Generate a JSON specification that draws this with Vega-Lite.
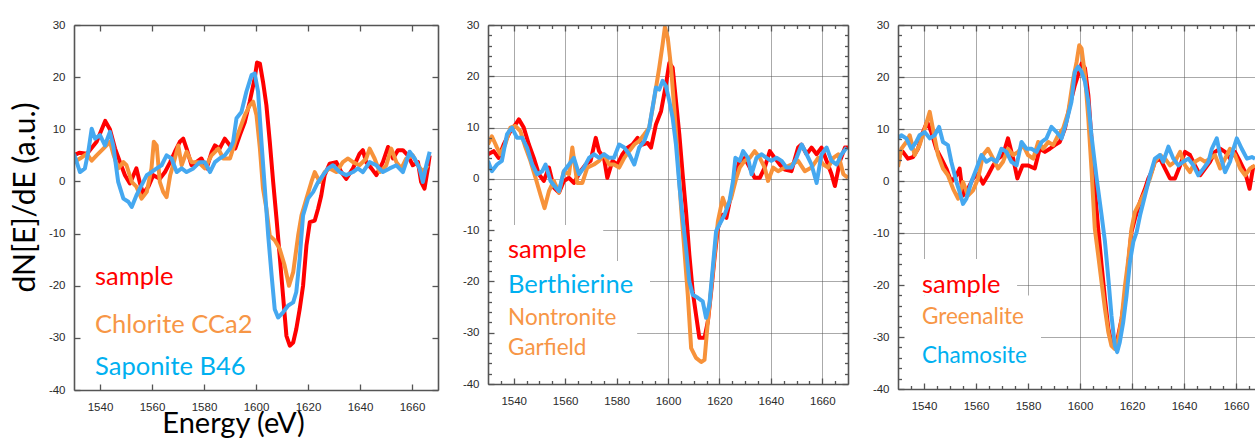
{
"$schema": "https://vega.github.io/schema/vega-lite/v6.json",
"background": "white",
"padding": {"left": 10, "top": 19, "right": 0, "bottom": 0},
"bounds": "flush",
"spacing": 50,
"config": {
  "view": {"stroke": null},
  "axis": {"labelFont": "Liberation Sans", "labelFontSize": 11.5, "labelColor": "#2a2a2a", "domainColor": "#555", "domainWidth": 1.6, "tickColor": "#555", "tickWidth": 1.3, "titleFont": "Lato", "titleFontSize": 29, "titleFontWeight": "normal", "titleColor": "#000", "gridColor": "#555", "gridDash": [1, 1], "gridWidth": 1, "gridOpacity": 1}
},
"datasets": {
"p1": [
{"s":"sample","e":1530,"v":5},{"s":"sample","e":1532,"v":5.5},{"s":"sample","e":1535,"v":5.3},{"s":"sample","e":1538.7,"v":7.6},{"s":"sample","e":1542,"v":11.6},{"s":"sample","e":1543.8,"v":10},{"s":"sample","e":1545.8,"v":6.3},{"s":"sample","e":1547.7,"v":3.7},{"s":"sample","e":1549.6,"v":1.2},{"s":"sample","e":1551.5,"v":-0.4},{"s":"sample","e":1554,"v":2.5},{"s":"sample","e":1555.4,"v":-0.4},{"s":"sample","e":1556.6,"v":-2.3},{"s":"sample","e":1558.6,"v":-1},{"s":"sample","e":1560.5,"v":1.2},{"s":"sample","e":1563,"v":0.5},{"s":"sample","e":1565,"v":1.8},{"s":"sample","e":1567,"v":3.7},{"s":"sample","e":1568.8,"v":5.7},{"s":"sample","e":1570.7,"v":7.6},{"s":"sample","e":1572,"v":8.2},{"s":"sample","e":1573.3,"v":6.3},{"s":"sample","e":1575.2,"v":3.1},{"s":"sample","e":1577,"v":3.7},{"s":"sample","e":1579,"v":4.4},{"s":"sample","e":1581,"v":2.5},{"s":"sample","e":1583,"v":5.7},{"s":"sample","e":1584.2,"v":6.9},{"s":"sample","e":1586,"v":6.3},{"s":"sample","e":1588,"v":8.2},{"s":"sample","e":1590,"v":6.9},{"s":"sample","e":1592,"v":6.3},{"s":"sample","e":1593.8,"v":8.9},{"s":"sample","e":1595.7,"v":11.4},{"s":"sample","e":1597.6,"v":15.3},{"s":"sample","e":1599.5,"v":19.8},{"s":"sample","e":1600.4,"v":22.8},{"s":"sample","e":1601.5,"v":22.6},{"s":"sample","e":1602.7,"v":19.1},{"s":"sample","e":1604,"v":14.6},{"s":"sample","e":1605.3,"v":7.6},{"s":"sample","e":1606.6,"v":-0.1},{"s":"sample","e":1607.9,"v":-7.2},{"s":"sample","e":1609.1,"v":-14.2},{"s":"sample","e":1610.4,"v":-21.9},{"s":"sample","e":1611.7,"v":-29.6},{"s":"sample","e":1613,"v":-31.5},{"s":"sample","e":1614.3,"v":-30.9},{"s":"sample","e":1615.5,"v":-28.3},{"s":"sample","e":1616.8,"v":-24.5},{"s":"sample","e":1618.1,"v":-20},{"s":"sample","e":1619.4,"v":-12.3},{"s":"sample","e":1620.7,"v":-7.8},{"s":"sample","e":1622.6,"v":-7.5},{"s":"sample","e":1623.9,"v":-5.2},{"s":"sample","e":1625.1,"v":-2.7},{"s":"sample","e":1626.4,"v":1.2},{"s":"sample","e":1628.3,"v":3.4},{"s":"sample","e":1630.9,"v":3.7},{"s":"sample","e":1632.8,"v":1.8},{"s":"sample","e":1634.7,"v":0.5},{"s":"sample","e":1637.3,"v":2.5},{"s":"sample","e":1639.8,"v":5.3},{"s":"sample","e":1641.1,"v":6},{"s":"sample","e":1642.4,"v":3.7},{"s":"sample","e":1644.4,"v":2.5},{"s":"sample","e":1646.3,"v":1.2},{"s":"sample","e":1648.8,"v":3.7},{"s":"sample","e":1650.8,"v":6.6},{"s":"sample","e":1652.7,"v":4.4},{"s":"sample","e":1654.6,"v":6},{"s":"sample","e":1656.5,"v":6},{"s":"sample","e":1658.4,"v":5},{"s":"sample","e":1660.3,"v":3.1},{"s":"sample","e":1662.3,"v":3.7},{"s":"sample","e":1663.5,"v":-0.1},{"s":"sample","e":1664.8,"v":-1.4},{"s":"sample","e":1666.1,"v":2.5},{"s":"sample","e":1666.8,"v":5},
{"s":"Chlorite CCa2","e":1530,"v":3.7},{"s":"Chlorite CCa2","e":1532.3,"v":4.4},{"s":"Chlorite CCa2","e":1534.9,"v":5.3},{"s":"Chlorite CCa2","e":1536.8,"v":4},{"s":"Chlorite CCa2","e":1538.7,"v":5},{"s":"Chlorite CCa2","e":1541.3,"v":6.3},{"s":"Chlorite CCa2","e":1543.8,"v":7.6},{"s":"Chlorite CCa2","e":1545.1,"v":5.3},{"s":"Chlorite CCa2","e":1547,"v":2.5},{"s":"Chlorite CCa2","e":1549,"v":3.7},{"s":"Chlorite CCa2","e":1550.2,"v":3.1},{"s":"Chlorite CCa2","e":1552.2,"v":-0.1},{"s":"Chlorite CCa2","e":1554,"v":-1},{"s":"Chlorite CCa2","e":1556,"v":-3.3},{"s":"Chlorite CCa2","e":1558,"v":-2},{"s":"Chlorite CCa2","e":1559.8,"v":2.5},{"s":"Chlorite CCa2","e":1560.7,"v":7.6},{"s":"Chlorite CCa2","e":1561.8,"v":6.9},{"s":"Chlorite CCa2","e":1563,"v":-0.1},{"s":"Chlorite CCa2","e":1564.3,"v":-2},{"s":"Chlorite CCa2","e":1565.6,"v":-3},{"s":"Chlorite CCa2","e":1567,"v":1.2},{"s":"Chlorite CCa2","e":1568.8,"v":4.4},{"s":"Chlorite CCa2","e":1570.1,"v":6.9},{"s":"Chlorite CCa2","e":1571.4,"v":3.1},{"s":"Chlorite CCa2","e":1573.3,"v":5.7},{"s":"Chlorite CCa2","e":1575.2,"v":3.7},{"s":"Chlorite CCa2","e":1577.8,"v":3.7},{"s":"Chlorite CCa2","e":1580.3,"v":2.5},{"s":"Chlorite CCa2","e":1582.9,"v":5},{"s":"Chlorite CCa2","e":1585.5,"v":6.3},{"s":"Chlorite CCa2","e":1587.4,"v":4.4},{"s":"Chlorite CCa2","e":1590,"v":4.4},{"s":"Chlorite CCa2","e":1592,"v":7.6},{"s":"Chlorite CCa2","e":1593.8,"v":10.1},{"s":"Chlorite CCa2","e":1595.7,"v":12.7},{"s":"Chlorite CCa2","e":1597.6,"v":14.6},{"s":"Chlorite CCa2","e":1598.9,"v":15.3},{"s":"Chlorite CCa2","e":1600.2,"v":12.7},{"s":"Chlorite CCa2","e":1601.5,"v":6.3},{"s":"Chlorite CCa2","e":1602.7,"v":-1.4},{"s":"Chlorite CCa2","e":1604,"v":-5.2},{"s":"Chlorite CCa2","e":1605.3,"v":-10.4},{"s":"Chlorite CCa2","e":1607.2,"v":-11.3},{"s":"Chlorite CCa2","e":1609.1,"v":-12.9},{"s":"Chlorite CCa2","e":1611,"v":-16.1},{"s":"Chlorite CCa2","e":1612.7,"v":-20},{"s":"Chlorite CCa2","e":1614.3,"v":-17.4},{"s":"Chlorite CCa2","e":1616.2,"v":-10.4},{"s":"Chlorite CCa2","e":1617.5,"v":-6.5},{"s":"Chlorite CCa2","e":1619.4,"v":-3.3},{"s":"Chlorite CCa2","e":1621.3,"v":-0.1},{"s":"Chlorite CCa2","e":1622.6,"v":1.8},{"s":"Chlorite CCa2","e":1624.5,"v":-0.1},{"s":"Chlorite CCa2","e":1626.4,"v":1.8},{"s":"Chlorite CCa2","e":1628.3,"v":2.5},{"s":"Chlorite CCa2","e":1630.9,"v":1.8},{"s":"Chlorite CCa2","e":1633.4,"v":3.7},{"s":"Chlorite CCa2","e":1635.4,"v":4.4},{"s":"Chlorite CCa2","e":1637.3,"v":3.7},{"s":"Chlorite CCa2","e":1639.8,"v":3.1},{"s":"Chlorite CCa2","e":1642.4,"v":4.4},{"s":"Chlorite CCa2","e":1643.7,"v":6.3},{"s":"Chlorite CCa2","e":1645.6,"v":4.4},{"s":"Chlorite CCa2","e":1647.6,"v":1.8},{"s":"Chlorite CCa2","e":1650.1,"v":3.1},{"s":"Chlorite CCa2","e":1652,"v":6.3},{"s":"Chlorite CCa2","e":1654,"v":3.7},{"s":"Chlorite CCa2","e":1655.9,"v":2.5},{"s":"Chlorite CCa2","e":1657.8,"v":4.4},{"s":"Chlorite CCa2","e":1660.3,"v":5},{"s":"Chlorite CCa2","e":1662.3,"v":3.1},{"s":"Chlorite CCa2","e":1664.2,"v":1.8},{"s":"Chlorite CCa2","e":1666.1,"v":3.1},
{"s":"Saponite B46","e":1530,"v":5.3},{"s":"Saponite B46","e":1532.3,"v":1.8},{"s":"Saponite B46","e":1534.2,"v":2.5},{"s":"Saponite B46","e":1535.5,"v":5.7},{"s":"Saponite B46","e":1536.8,"v":10.1},{"s":"Saponite B46","e":1538.1,"v":8.2},{"s":"Saponite B46","e":1540,"v":8.9},{"s":"Saponite B46","e":1541.9,"v":6.9},{"s":"Saponite B46","e":1543.8,"v":9.5},{"s":"Saponite B46","e":1545.1,"v":6.9},{"s":"Saponite B46","e":1547,"v":-0.1},{"s":"Saponite B46","e":1549,"v":-3.3},{"s":"Saponite B46","e":1550.9,"v":-3.9},{"s":"Saponite B46","e":1552.2,"v":-4.9},{"s":"Saponite B46","e":1554,"v":-2.7},{"s":"Saponite B46","e":1556,"v":-0.7},{"s":"Saponite B46","e":1558,"v":1.2},{"s":"Saponite B46","e":1559.8,"v":1.8},{"s":"Saponite B46","e":1561.8,"v":2.5},{"s":"Saponite B46","e":1563.7,"v":3.1},{"s":"Saponite B46","e":1565.6,"v":5},{"s":"Saponite B46","e":1567.5,"v":4.4},{"s":"Saponite B46","e":1569.5,"v":1.8},{"s":"Saponite B46","e":1571.4,"v":2.5},{"s":"Saponite B46","e":1573.3,"v":1.8},{"s":"Saponite B46","e":1575.9,"v":2.5},{"s":"Saponite B46","e":1578.4,"v":3.7},{"s":"Saponite B46","e":1580.3,"v":3.7},{"s":"Saponite B46","e":1582.3,"v":1.8},{"s":"Saponite B46","e":1584.2,"v":3.7},{"s":"Saponite B46","e":1586,"v":4.4},{"s":"Saponite B46","e":1588,"v":5},{"s":"Saponite B46","e":1590,"v":6.3},{"s":"Saponite B46","e":1591.2,"v":7.6},{"s":"Saponite B46","e":1592.5,"v":12.1},{"s":"Saponite B46","e":1594.4,"v":13.3},{"s":"Saponite B46","e":1596.3,"v":17.2},{"s":"Saponite B46","e":1598.3,"v":20.4},{"s":"Saponite B46","e":1599.5,"v":20.7},{"s":"Saponite B46","e":1600.8,"v":17.2},{"s":"Saponite B46","e":1602.1,"v":7.6},{"s":"Saponite B46","e":1603.4,"v":-1.4},{"s":"Saponite B46","e":1604.7,"v":-10.4},{"s":"Saponite B46","e":1606,"v":-18},{"s":"Saponite B46","e":1607.2,"v":-24.5},{"s":"Saponite B46","e":1608.5,"v":-26.1},{"s":"Saponite B46","e":1610.4,"v":-25.1},{"s":"Saponite B46","e":1612.4,"v":-23.8},{"s":"Saponite B46","e":1614.3,"v":-23.2},{"s":"Saponite B46","e":1615.5,"v":-21.2},{"s":"Saponite B46","e":1616.8,"v":-14.8},{"s":"Saponite B46","e":1618.1,"v":-6.5},{"s":"Saponite B46","e":1620,"v":-3.3},{"s":"Saponite B46","e":1622,"v":-2},{"s":"Saponite B46","e":1623.9,"v":-0.1},{"s":"Saponite B46","e":1625.8,"v":1.2},{"s":"Saponite B46","e":1627.7,"v":2.5},{"s":"Saponite B46","e":1629.6,"v":3.1},{"s":"Saponite B46","e":1632.2,"v":1.8},{"s":"Saponite B46","e":1634.7,"v":1.2},{"s":"Saponite B46","e":1637.3,"v":1.8},{"s":"Saponite B46","e":1639.2,"v":2.5},{"s":"Saponite B46","e":1641.1,"v":1.8},{"s":"Saponite B46","e":1643.7,"v":3.7},{"s":"Saponite B46","e":1646.3,"v":3.1},{"s":"Saponite B46","e":1648.8,"v":1.8},{"s":"Saponite B46","e":1651.4,"v":2.5},{"s":"Saponite B46","e":1654,"v":3.1},{"s":"Saponite B46","e":1656.5,"v":1.8},{"s":"Saponite B46","e":1659.1,"v":5.7},{"s":"Saponite B46","e":1661,"v":4.4},{"s":"Saponite B46","e":1662.9,"v":2.5},{"s":"Saponite B46","e":1664.2,"v":-0.1},{"s":"Saponite B46","e":1665.5,"v":3.1},{"s":"Saponite B46","e":1666.8,"v":5.7}
],
"p2": [
{"s":"sample","e":1530,"v":4.8},{"s":"sample","e":1532.2,"v":5.4},{"s":"sample","e":1534.1,"v":4.1},{"s":"sample","e":1536.1,"v":6.7},{"s":"sample","e":1538.7,"v":9.3},{"s":"sample","e":1540.7,"v":10.6},{"s":"sample","e":1542,"v":11.6},{"s":"sample","e":1543.9,"v":10},{"s":"sample","e":1545.9,"v":6.7},{"s":"sample","e":1547.8,"v":4.1},{"s":"sample","e":1549.8,"v":0.9},{"s":"sample","e":1551.7,"v":-0.4},{"s":"sample","e":1553.7,"v":2.2},{"s":"sample","e":1555.6,"v":-1.7},{"s":"sample","e":1557.6,"v":-2.7},{"s":"sample","e":1559.5,"v":-0.4},{"s":"sample","e":1561.5,"v":0.2},{"s":"sample","e":1563.4,"v":-0.8},{"s":"sample","e":1566,"v":1.5},{"s":"sample","e":1568,"v":2.8},{"s":"sample","e":1569.9,"v":3.5},{"s":"sample","e":1571.9,"v":8},{"s":"sample","e":1573.2,"v":5.4},{"s":"sample","e":1575.1,"v":4.1},{"s":"sample","e":1576.4,"v":0.2},{"s":"sample","e":1578.4,"v":3.5},{"s":"sample","e":1580.3,"v":2.8},{"s":"sample","e":1582.3,"v":4.8},{"s":"sample","e":1584.3,"v":6.1},{"s":"sample","e":1586.2,"v":6.7},{"s":"sample","e":1588.2,"v":8},{"s":"sample","e":1590.1,"v":6.7},{"s":"sample","e":1592.1,"v":7},{"s":"sample","e":1593.4,"v":6.1},{"s":"sample","e":1595.3,"v":10.6},{"s":"sample","e":1597.3,"v":13.2},{"s":"sample","e":1599.2,"v":18.4},{"s":"sample","e":1600.5,"v":22.6},{"s":"sample","e":1601.8,"v":21.7},{"s":"sample","e":1603.1,"v":15.2},{"s":"sample","e":1604.4,"v":8.7},{"s":"sample","e":1605.7,"v":0.9},{"s":"sample","e":1607,"v":-6.3},{"s":"sample","e":1608.3,"v":-14.8},{"s":"sample","e":1609.6,"v":-21.9},{"s":"sample","e":1610.9,"v":-26.5},{"s":"sample","e":1612.2,"v":-31},{"s":"sample","e":1614.2,"v":-31},{"s":"sample","e":1615.5,"v":-27.8},{"s":"sample","e":1616.8,"v":-21.9},{"s":"sample","e":1618.1,"v":-15.4},{"s":"sample","e":1619.4,"v":-9.6},{"s":"sample","e":1621.3,"v":-7},{"s":"sample","e":1622.7,"v":-7.6},{"s":"sample","e":1624,"v":-4.4},{"s":"sample","e":1625.3,"v":-1.7},{"s":"sample","e":1626.6,"v":1.5},{"s":"sample","e":1627.9,"v":3.5},{"s":"sample","e":1629.8,"v":4.1},{"s":"sample","e":1631.8,"v":2.2},{"s":"sample","e":1633.7,"v":0.2},{"s":"sample","e":1635.7,"v":0.2},{"s":"sample","e":1637.6,"v":2.2},{"s":"sample","e":1639.6,"v":5.4},{"s":"sample","e":1641.5,"v":4.1},{"s":"sample","e":1643.5,"v":2.8},{"s":"sample","e":1645.4,"v":1.8},{"s":"sample","e":1648,"v":1.5},{"s":"sample","e":1650.6,"v":6.1},{"s":"sample","e":1651.9,"v":6.7},{"s":"sample","e":1653.9,"v":4.8},{"s":"sample","e":1655.8,"v":6.1},{"s":"sample","e":1657.8,"v":4.8},{"s":"sample","e":1659.7,"v":6.1},{"s":"sample","e":1661.7,"v":3.5},{"s":"sample","e":1663.6,"v":0.9},{"s":"sample","e":1664.9,"v":-1.4},{"s":"sample","e":1666.9,"v":3.5},{"s":"sample","e":1668.8,"v":6.1},{"s":"sample","e":1670,"v":6.1},
{"s":"Nontronite Garfield","e":1530,"v":6.7},{"s":"Nontronite Garfield","e":1531.5,"v":8.3},{"s":"Nontronite Garfield","e":1533.5,"v":6.1},{"s":"Nontronite Garfield","e":1534.8,"v":4.8},{"s":"Nontronite Garfield","e":1536.7,"v":6.7},{"s":"Nontronite Garfield","e":1538.7,"v":10},{"s":"Nontronite Garfield","e":1540.7,"v":10.3},{"s":"Nontronite Garfield","e":1542.6,"v":9.3},{"s":"Nontronite Garfield","e":1544.6,"v":6.1},{"s":"Nontronite Garfield","e":1546.5,"v":3.5},{"s":"Nontronite Garfield","e":1548.5,"v":0.2},{"s":"Nontronite Garfield","e":1550.4,"v":-3.1},{"s":"Nontronite Garfield","e":1552,"v":-5.7},{"s":"Nontronite Garfield","e":1553.7,"v":-2.4},{"s":"Nontronite Garfield","e":1555.6,"v":-0.4},{"s":"Nontronite Garfield","e":1557.6,"v":-2.7},{"s":"Nontronite Garfield","e":1559.5,"v":1.5},{"s":"Nontronite Garfield","e":1561.5,"v":0.9},{"s":"Nontronite Garfield","e":1562.8,"v":6.1},{"s":"Nontronite Garfield","e":1564.7,"v":-0.8},{"s":"Nontronite Garfield","e":1566.7,"v":-0.8},{"s":"Nontronite Garfield","e":1568.6,"v":2.2},{"s":"Nontronite Garfield","e":1571.2,"v":2.8},{"s":"Nontronite Garfield","e":1573.2,"v":3.5},{"s":"Nontronite Garfield","e":1575.1,"v":4.8},{"s":"Nontronite Garfield","e":1577.1,"v":2.8},{"s":"Nontronite Garfield","e":1579,"v":2.8},{"s":"Nontronite Garfield","e":1581,"v":2.2},{"s":"Nontronite Garfield","e":1583,"v":4.1},{"s":"Nontronite Garfield","e":1584.9,"v":5.4},{"s":"Nontronite Garfield","e":1586.9,"v":6.7},{"s":"Nontronite Garfield","e":1588.8,"v":7.4},{"s":"Nontronite Garfield","e":1590.8,"v":8.7},{"s":"Nontronite Garfield","e":1592.7,"v":10},{"s":"Nontronite Garfield","e":1594.7,"v":15.8},{"s":"Nontronite Garfield","e":1596.6,"v":21.7},{"s":"Nontronite Garfield","e":1597.9,"v":26.2},{"s":"Nontronite Garfield","e":1598.8,"v":29.6},{"s":"Nontronite Garfield","e":1599.9,"v":27.5},{"s":"Nontronite Garfield","e":1601.2,"v":21.7},{"s":"Nontronite Garfield","e":1602.5,"v":13.2},{"s":"Nontronite Garfield","e":1603.8,"v":4.1},{"s":"Nontronite Garfield","e":1605.1,"v":-5.7},{"s":"Nontronite Garfield","e":1606.4,"v":-14.1},{"s":"Nontronite Garfield","e":1607.7,"v":-22.6},{"s":"Nontronite Garfield","e":1609,"v":-33},{"s":"Nontronite Garfield","e":1610.9,"v":-34.9},{"s":"Nontronite Garfield","e":1612.9,"v":-35.7},{"s":"Nontronite Garfield","e":1614.2,"v":-35.3},{"s":"Nontronite Garfield","e":1615.5,"v":-27.8},{"s":"Nontronite Garfield","e":1616.8,"v":-21.3},{"s":"Nontronite Garfield","e":1618.1,"v":-14.8},{"s":"Nontronite Garfield","e":1619.4,"v":-8.3},{"s":"Nontronite Garfield","e":1621.3,"v":-3.7},{"s":"Nontronite Garfield","e":1622.7,"v":-5.7},{"s":"Nontronite Garfield","e":1624.6,"v":-3.7},{"s":"Nontronite Garfield","e":1626.6,"v":0.2},{"s":"Nontronite Garfield","e":1627.9,"v":2.2},{"s":"Nontronite Garfield","e":1629.8,"v":3.5},{"s":"Nontronite Garfield","e":1631.8,"v":4.1},{"s":"Nontronite Garfield","e":1633.7,"v":5.4},{"s":"Nontronite Garfield","e":1635.7,"v":4.1},{"s":"Nontronite Garfield","e":1637.6,"v":2.2},{"s":"Nontronite Garfield","e":1638.9,"v":-0.4},{"s":"Nontronite Garfield","e":1640.9,"v":2.2},{"s":"Nontronite Garfield","e":1642.8,"v":1.5},{"s":"Nontronite Garfield","e":1645.4,"v":2.2},{"s":"Nontronite Garfield","e":1648,"v":2.8},{"s":"Nontronite Garfield","e":1650.6,"v":3.5},{"s":"Nontronite Garfield","e":1653.2,"v":1.5},{"s":"Nontronite Garfield","e":1655.8,"v":2.2},{"s":"Nontronite Garfield","e":1658.4,"v":4.1},{"s":"Nontronite Garfield","e":1660.4,"v":2.8},{"s":"Nontronite Garfield","e":1662.3,"v":2.2},{"s":"Nontronite Garfield","e":1664.3,"v":4.1},{"s":"Nontronite Garfield","e":1666.2,"v":4.8},{"s":"Nontronite Garfield","e":1668.2,"v":0.9},{"s":"Nontronite Garfield","e":1670,"v":0.2},
{"s":"Berthierine","e":1530,"v":3.5},{"s":"Berthierine","e":1531.5,"v":1.5},{"s":"Berthierine","e":1533.5,"v":2.8},{"s":"Berthierine","e":1535.4,"v":3.5},{"s":"Berthierine","e":1537.4,"v":8.7},{"s":"Berthierine","e":1539.3,"v":10},{"s":"Berthierine","e":1541.3,"v":8},{"s":"Berthierine","e":1543.3,"v":8},{"s":"Berthierine","e":1545.2,"v":6.1},{"s":"Berthierine","e":1547.2,"v":2.8},{"s":"Berthierine","e":1549.1,"v":0.9},{"s":"Berthierine","e":1551.1,"v":1.5},{"s":"Berthierine","e":1552.4,"v":2.8},{"s":"Berthierine","e":1554.3,"v":-0.4},{"s":"Berthierine","e":1556.3,"v":-1.7},{"s":"Berthierine","e":1557.6,"v":-2.4},{"s":"Berthierine","e":1559.5,"v":1.5},{"s":"Berthierine","e":1561.5,"v":2.8},{"s":"Berthierine","e":1563.4,"v":4.1},{"s":"Berthierine","e":1565.4,"v":0.9},{"s":"Berthierine","e":1567.3,"v":2.2},{"s":"Berthierine","e":1569.3,"v":4.1},{"s":"Berthierine","e":1571.2,"v":4.8},{"s":"Berthierine","e":1573.2,"v":4.1},{"s":"Berthierine","e":1575.1,"v":4.8},{"s":"Berthierine","e":1577.1,"v":4.1},{"s":"Berthierine","e":1579,"v":4.1},{"s":"Berthierine","e":1581,"v":6.7},{"s":"Berthierine","e":1583,"v":6.1},{"s":"Berthierine","e":1584.9,"v":4.8},{"s":"Berthierine","e":1586.9,"v":2.8},{"s":"Berthierine","e":1588.8,"v":6.1},{"s":"Berthierine","e":1590.8,"v":7.4},{"s":"Berthierine","e":1592.7,"v":10},{"s":"Berthierine","e":1594,"v":13.9},{"s":"Berthierine","e":1595.3,"v":17.8},{"s":"Berthierine","e":1596.6,"v":17.4},{"s":"Berthierine","e":1597.9,"v":19.1},{"s":"Berthierine","e":1599.2,"v":18.1},{"s":"Berthierine","e":1600.5,"v":15.2},{"s":"Berthierine","e":1601.8,"v":11.9},{"s":"Berthierine","e":1603.1,"v":6.7},{"s":"Berthierine","e":1604.4,"v":-1.1},{"s":"Berthierine","e":1605.7,"v":-7.6},{"s":"Berthierine","e":1607,"v":-13.5},{"s":"Berthierine","e":1608.3,"v":-20},{"s":"Berthierine","e":1609.6,"v":-22.6},{"s":"Berthierine","e":1611.6,"v":-23.2},{"s":"Berthierine","e":1613.5,"v":-23.9},{"s":"Berthierine","e":1614.8,"v":-27.1},{"s":"Berthierine","e":1616.1,"v":-24.5},{"s":"Berthierine","e":1617.4,"v":-17.4},{"s":"Berthierine","e":1618.7,"v":-10.2},{"s":"Berthierine","e":1620,"v":-8.9},{"s":"Berthierine","e":1622,"v":-7},{"s":"Berthierine","e":1623.9,"v":-4.4},{"s":"Berthierine","e":1625.3,"v":-0.4},{"s":"Berthierine","e":1626.2,"v":4.1},{"s":"Berthierine","e":1627.9,"v":3.5},{"s":"Berthierine","e":1629.2,"v":5.4},{"s":"Berthierine","e":1631.1,"v":4.1},{"s":"Berthierine","e":1632.5,"v":0.9},{"s":"Berthierine","e":1634.4,"v":4.1},{"s":"Berthierine","e":1636.3,"v":4.8},{"s":"Berthierine","e":1638.3,"v":4.1},{"s":"Berthierine","e":1640.2,"v":3.5},{"s":"Berthierine","e":1642.2,"v":4.1},{"s":"Berthierine","e":1644.2,"v":3.5},{"s":"Berthierine","e":1646.1,"v":2.2},{"s":"Berthierine","e":1648,"v":2.2},{"s":"Berthierine","e":1650,"v":4.1},{"s":"Berthierine","e":1652,"v":6.7},{"s":"Berthierine","e":1653.9,"v":4.8},{"s":"Berthierine","e":1655.8,"v":2.8},{"s":"Berthierine","e":1657.8,"v":-0.8},{"s":"Berthierine","e":1659.7,"v":4.8},{"s":"Berthierine","e":1661.7,"v":6.1},{"s":"Berthierine","e":1663.6,"v":3.5},{"s":"Berthierine","e":1665.6,"v":2.8},{"s":"Berthierine","e":1667.5,"v":4.8},{"s":"Berthierine","e":1669.5,"v":6.1}
],
"p3": [
{"s":"sample","e":1530,"v":5},{"s":"sample","e":1531.9,"v":5.6},{"s":"sample","e":1533.8,"v":4.3},{"s":"sample","e":1535.8,"v":4.6},{"s":"sample","e":1537.7,"v":6.2},{"s":"sample","e":1539.6,"v":9.4},{"s":"sample","e":1541.2,"v":11.4},{"s":"sample","e":1542.8,"v":9.4},{"s":"sample","e":1544.7,"v":6.2},{"s":"sample","e":1546.7,"v":4.3},{"s":"sample","e":1548.6,"v":2.4},{"s":"sample","e":1550.5,"v":-0.2},{"s":"sample","e":1552.5,"v":1.1},{"s":"sample","e":1553.7,"v":2.4},{"s":"sample","e":1555,"v":-2.8},{"s":"sample","e":1556.9,"v":-1.5},{"s":"sample","e":1558.9,"v":0.5},{"s":"sample","e":1560.8,"v":1.4},{"s":"sample","e":1562.7,"v":-0.5},{"s":"sample","e":1564.6,"v":1.1},{"s":"sample","e":1566.6,"v":3},{"s":"sample","e":1568.5,"v":4.3},{"s":"sample","e":1570.4,"v":5},{"s":"sample","e":1572.3,"v":8.2},{"s":"sample","e":1574.3,"v":4.3},{"s":"sample","e":1575.9,"v":0.5},{"s":"sample","e":1577.9,"v":3},{"s":"sample","e":1580,"v":3},{"s":"sample","e":1582.6,"v":2.4},{"s":"sample","e":1584.5,"v":6.2},{"s":"sample","e":1586.5,"v":5.6},{"s":"sample","e":1588.4,"v":6.2},{"s":"sample","e":1590.3,"v":6.9},{"s":"sample","e":1592.2,"v":7.5},{"s":"sample","e":1594.2,"v":10.1},{"s":"sample","e":1596.1,"v":14.6},{"s":"sample","e":1598,"v":18.4},{"s":"sample","e":1599.3,"v":20.4},{"s":"sample","e":1600.6,"v":22.6},{"s":"sample","e":1601.9,"v":21.7},{"s":"sample","e":1603.2,"v":16.5},{"s":"sample","e":1604.4,"v":8.2},{"s":"sample","e":1605.7,"v":-1.5},{"s":"sample","e":1607,"v":-9.2},{"s":"sample","e":1608.3,"v":-16.2},{"s":"sample","e":1609.6,"v":-22.7},{"s":"sample","e":1610.9,"v":-28.4},{"s":"sample","e":1612.1,"v":-31},{"s":"sample","e":1613.4,"v":-31.7},{"s":"sample","e":1614.7,"v":-29.7},{"s":"sample","e":1616,"v":-26.5},{"s":"sample","e":1617.3,"v":-22},{"s":"sample","e":1618.6,"v":-15.6},{"s":"sample","e":1619.8,"v":-9.8},{"s":"sample","e":1621.1,"v":-7.3},{"s":"sample","e":1623.1,"v":-4},{"s":"sample","e":1625,"v":-1.5},{"s":"sample","e":1626.3,"v":0.5},{"s":"sample","e":1627.5,"v":1.7},{"s":"sample","e":1628.8,"v":3.7},{"s":"sample","e":1630.8,"v":4.3},{"s":"sample","e":1632.7,"v":2.4},{"s":"sample","e":1634.6,"v":0.5},{"s":"sample","e":1636.5,"v":0.5},{"s":"sample","e":1638.5,"v":3},{"s":"sample","e":1640.4,"v":5.6},{"s":"sample","e":1642.3,"v":5},{"s":"sample","e":1644.2,"v":3},{"s":"sample","e":1646.2,"v":1.1},{"s":"sample","e":1648.1,"v":2.4},{"s":"sample","e":1650,"v":3.7},{"s":"sample","e":1651.9,"v":5.6},{"s":"sample","e":1653.9,"v":6.2},{"s":"sample","e":1655.8,"v":5.6},{"s":"sample","e":1657.7,"v":4.3},{"s":"sample","e":1659.6,"v":5.6},{"s":"sample","e":1661.6,"v":3.7},{"s":"sample","e":1663.5,"v":1.7},{"s":"sample","e":1665.2,"v":-1.5},{"s":"sample","e":1666.7,"v":3},
{"s":"Greenalite","e":1530,"v":2.7},{"s":"Greenalite","e":1531.3,"v":6.2},{"s":"Greenalite","e":1533.2,"v":7.5},{"s":"Greenalite","e":1534.5,"v":8.8},{"s":"Greenalite","e":1536.4,"v":5},{"s":"Greenalite","e":1538.3,"v":6.9},{"s":"Greenalite","e":1540.3,"v":10.1},{"s":"Greenalite","e":1542.2,"v":13.3},{"s":"Greenalite","e":1543.9,"v":8.8},{"s":"Greenalite","e":1545.4,"v":5},{"s":"Greenalite","e":1547.3,"v":2.4},{"s":"Greenalite","e":1549.2,"v":1.1},{"s":"Greenalite","e":1551.2,"v":-1.5},{"s":"Greenalite","e":1553.1,"v":-3.4},{"s":"Greenalite","e":1555,"v":-0.2},{"s":"Greenalite","e":1556.9,"v":-2.8},{"s":"Greenalite","e":1558.9,"v":-1.8},{"s":"Greenalite","e":1560.8,"v":0.5},{"s":"Greenalite","e":1562.7,"v":5},{"s":"Greenalite","e":1564.6,"v":6.2},{"s":"Greenalite","e":1566.6,"v":4.3},{"s":"Greenalite","e":1568.5,"v":2.4},{"s":"Greenalite","e":1570.4,"v":3.7},{"s":"Greenalite","e":1572.3,"v":6.2},{"s":"Greenalite","e":1574.3,"v":5},{"s":"Greenalite","e":1576.2,"v":5.6},{"s":"Greenalite","e":1578.1,"v":6.9},{"s":"Greenalite","e":1580,"v":5},{"s":"Greenalite","e":1582,"v":4.3},{"s":"Greenalite","e":1583.9,"v":7.5},{"s":"Greenalite","e":1585.8,"v":6.2},{"s":"Greenalite","e":1587.8,"v":7.5},{"s":"Greenalite","e":1589.7,"v":6.9},{"s":"Greenalite","e":1591.6,"v":8.8},{"s":"Greenalite","e":1593.5,"v":10.1},{"s":"Greenalite","e":1595.5,"v":13.3},{"s":"Greenalite","e":1597.4,"v":19.7},{"s":"Greenalite","e":1598.7,"v":22.9},{"s":"Greenalite","e":1599.7,"v":26.1},{"s":"Greenalite","e":1600.6,"v":25.5},{"s":"Greenalite","e":1601.9,"v":20.4},{"s":"Greenalite","e":1603.2,"v":12},{"s":"Greenalite","e":1604.4,"v":2.4},{"s":"Greenalite","e":1605.7,"v":-9.2},{"s":"Greenalite","e":1607,"v":-14.3},{"s":"Greenalite","e":1608.3,"v":-19.5},{"s":"Greenalite","e":1609.6,"v":-24.6},{"s":"Greenalite","e":1610.9,"v":-29.1},{"s":"Greenalite","e":1612.1,"v":-31.7},{"s":"Greenalite","e":1613.4,"v":-32.3},{"s":"Greenalite","e":1614.7,"v":-30.4},{"s":"Greenalite","e":1616,"v":-26.5},{"s":"Greenalite","e":1617.3,"v":-20.1},{"s":"Greenalite","e":1618.6,"v":-15},{"s":"Greenalite","e":1619.8,"v":-9.2},{"s":"Greenalite","e":1621.1,"v":-6},{"s":"Greenalite","e":1623.1,"v":-4},{"s":"Greenalite","e":1625,"v":-2.1},{"s":"Greenalite","e":1626.9,"v":0.5},{"s":"Greenalite","e":1628.8,"v":3.7},{"s":"Greenalite","e":1630.8,"v":5},{"s":"Greenalite","e":1632.7,"v":4.3},{"s":"Greenalite","e":1634.6,"v":3},{"s":"Greenalite","e":1636.5,"v":3.7},{"s":"Greenalite","e":1638.5,"v":5.6},{"s":"Greenalite","e":1640.4,"v":3},{"s":"Greenalite","e":1642.3,"v":1.7},{"s":"Greenalite","e":1644.2,"v":3.7},{"s":"Greenalite","e":1646.2,"v":4.3},{"s":"Greenalite","e":1648.1,"v":3.7},{"s":"Greenalite","e":1650,"v":4.3},{"s":"Greenalite","e":1651.9,"v":5},{"s":"Greenalite","e":1653.9,"v":2.4},{"s":"Greenalite","e":1655.8,"v":4.3},{"s":"Greenalite","e":1657.7,"v":6.2},{"s":"Greenalite","e":1659.6,"v":5},{"s":"Greenalite","e":1661.6,"v":2.4},{"s":"Greenalite","e":1663.5,"v":1.1},{"s":"Greenalite","e":1665.4,"v":2.4},{"s":"Greenalite","e":1667.3,"v":3},
{"s":"Chamosite","e":1530,"v":8.2},{"s":"Chamosite","e":1531.3,"v":8.8},{"s":"Chamosite","e":1533.2,"v":8.2},{"s":"Chamosite","e":1535.1,"v":6.2},{"s":"Chamosite","e":1537,"v":7.5},{"s":"Chamosite","e":1538.3,"v":8.8},{"s":"Chamosite","e":1540.3,"v":9.4},{"s":"Chamosite","e":1542.2,"v":8.2},{"s":"Chamosite","e":1544.1,"v":8.8},{"s":"Chamosite","e":1545.8,"v":10.4},{"s":"Chamosite","e":1547.3,"v":7.5},{"s":"Chamosite","e":1549.2,"v":6.9},{"s":"Chamosite","e":1550.5,"v":3.7},{"s":"Chamosite","e":1552.5,"v":-0.2},{"s":"Chamosite","e":1553.7,"v":-2.1},{"s":"Chamosite","e":1555,"v":-4.4},{"s":"Chamosite","e":1556.3,"v":-3.4},{"s":"Chamosite","e":1558.2,"v":-0.2},{"s":"Chamosite","e":1560.2,"v":2.4},{"s":"Chamosite","e":1562.1,"v":5},{"s":"Chamosite","e":1564,"v":3.7},{"s":"Chamosite","e":1565.9,"v":4.3},{"s":"Chamosite","e":1567.9,"v":3.7},{"s":"Chamosite","e":1569.8,"v":6.2},{"s":"Chamosite","e":1571.7,"v":5.6},{"s":"Chamosite","e":1573.6,"v":3.7},{"s":"Chamosite","e":1575.6,"v":3},{"s":"Chamosite","e":1577.5,"v":7.5},{"s":"Chamosite","e":1579.4,"v":6.2},{"s":"Chamosite","e":1581.3,"v":6.2},{"s":"Chamosite","e":1583.3,"v":5.6},{"s":"Chamosite","e":1585.2,"v":7.5},{"s":"Chamosite","e":1587.1,"v":8.2},{"s":"Chamosite","e":1589,"v":10.4},{"s":"Chamosite","e":1591,"v":9.4},{"s":"Chamosite","e":1592.9,"v":8.2},{"s":"Chamosite","e":1594.8,"v":11.4},{"s":"Chamosite","e":1596.7,"v":15.2},{"s":"Chamosite","e":1598,"v":21},{"s":"Chamosite","e":1599.3,"v":22},{"s":"Chamosite","e":1600.6,"v":21},{"s":"Chamosite","e":1601.9,"v":19.1},{"s":"Chamosite","e":1603.2,"v":15.2},{"s":"Chamosite","e":1604.4,"v":8.8},{"s":"Chamosite","e":1606.4,"v":0.5},{"s":"Chamosite","e":1608.3,"v":-6.6},{"s":"Chamosite","e":1609.6,"v":-11.7},{"s":"Chamosite","e":1610.9,"v":-18.8},{"s":"Chamosite","e":1612.1,"v":-25.9},{"s":"Chamosite","e":1613.4,"v":-31.7},{"s":"Chamosite","e":1614.3,"v":-32.9},{"s":"Chamosite","e":1615.3,"v":-31},{"s":"Chamosite","e":1616.6,"v":-27.2},{"s":"Chamosite","e":1617.9,"v":-22},{"s":"Chamosite","e":1619.2,"v":-15.6},{"s":"Chamosite","e":1620.5,"v":-11.7},{"s":"Chamosite","e":1621.8,"v":-9.8},{"s":"Chamosite","e":1623.1,"v":-6.6},{"s":"Chamosite","e":1625,"v":-2.8},{"s":"Chamosite","e":1626.9,"v":1.1},{"s":"Chamosite","e":1628.8,"v":4.3},{"s":"Chamosite","e":1630.8,"v":5},{"s":"Chamosite","e":1632,"v":3.7},{"s":"Chamosite","e":1634,"v":6.6},{"s":"Chamosite","e":1635.9,"v":4.3},{"s":"Chamosite","e":1637.8,"v":3},{"s":"Chamosite","e":1639.7,"v":3.7},{"s":"Chamosite","e":1641.7,"v":4.3},{"s":"Chamosite","e":1643.6,"v":3},{"s":"Chamosite","e":1645.5,"v":1.1},{"s":"Chamosite","e":1647.5,"v":2.4},{"s":"Chamosite","e":1649.4,"v":3.7},{"s":"Chamosite","e":1650.7,"v":6.2},{"s":"Chamosite","e":1652.6,"v":8.2},{"s":"Chamosite","e":1653.9,"v":5},{"s":"Chamosite","e":1655.8,"v":1.7},{"s":"Chamosite","e":1657.7,"v":3.7},{"s":"Chamosite","e":1659,"v":6.2},{"s":"Chamosite","e":1660.3,"v":8.2},{"s":"Chamosite","e":1662.2,"v":6.2},{"s":"Chamosite","e":1664.2,"v":4.3},{"s":"Chamosite","e":1666.1,"v":4.6},{"s":"Chamosite","e":1667.3,"v":4.3}
],
"lab": [
{"p":1,"t":"sample","s":"sample","x":1538.1,"y":-19.9},
{"p":1,"t":"Chlorite CCa2","s":"Chlorite CCa2","x":1538.1,"y":-29.1},
{"p":1,"t":"Saponite B46","s":"Saponite B46","x":1538.1,"y":-37.1},
{"p":2,"t":"sample","s":"sample","x":1537.8,"y":-15.4},
{"p":2,"t":"Berthierine","s":"Berthierine","x":1537.8,"y":-22.3},
{"p":2,"t":"Nontronite","s":"Nontronite Garfield","x":1537.8,"y":-28.5},
{"p":2,"t":"Garfield","s":"Nontronite Garfield","x":1537.8,"y":-34.3},
{"p":3,"t":"sample","s":"sample","x":1539.2,"y":-21.5},
{"p":3,"t":"Greenalite","s":"Greenalite","x":1539.2,"y":-27.5},
{"p":3,"t":"Chamosite","s":"Chamosite","x":1539.2,"y":-35}
],
"boxes": [
{"p":2,"x":1530,"x2":1574.8,"y":-16,"y2":-9},
{"p":2,"x":1530,"x2":1593,"y":-25,"y2":-16},
{"p":2,"x":1530,"x2":1588,"y":-40,"y2":-25},
{"p":3,"x":1530,"x2":1575.8,"y":-22,"y2":-15},
{"p":3,"x":1530,"x2":1585,"y":-40,"y2":-22}
]
},
"hconcat": [
{
 "width": 364, "height": 365,
 "resolve": {"axis": {"x": "independent", "y": "independent"}, "scale": {"color": "independent"}},
 "layer": [
  {"data": {"name": "p1"},
   "mark": {"type": "line", "strokeWidth": 4, "strokeJoin": "round", "clip": true},
   "encoding": {
    "x": {"field": "e", "type": "quantitative", "scale": {"domain": [1530, 1670], "nice": false, "zero": false},
      "axis": {"orient": "bottom", "values": [1540,1560,1580,1600,1620,1640,1660], "labelExpr": "'' + datum.value", "ticks": false, "domain": false, "grid": false, "labelPadding": 11, "title": "Energy (eV)", "titleX": 159, "titleY": 42, "titleBaseline": "alphabetic", "titleAlign": "center", "zindex": 0}},
    "y": {"field": "v", "type": "quantitative", "scale": {"domain": [-40, 30], "nice": false, "zero": false},
      "axis": {"orient": "left", "values": [-40,-30,-20,-10,0,10,20,30], "ticks": false, "domain": false, "grid": false, "labelPadding": 9, "labelExpr": "datum.value < 0 ? '-' + abs(datum.value) : '' + datum.value", "title": "dN[E]/dE (a.u.)", "titleX": -49, "titleY": 172, "titleAngle": 270, "titleBaseline": "middle", "titleAlign": "center", "titleFontSize": 30, "zindex": 0}},
    "color": {"field": "s", "type": "nominal", "legend": null, "scale": {"domain": ["sample","Chlorite CCa2","Saponite B46"], "range": ["#FF0000","#F7923A","#45A8F0"]}}
   }},
  {"data": {"name": "p1"},
   "mark": {"type": "point", "opacity": 0},
   "encoding": {
    "x": {"field": "e", "type": "quantitative", "scale": {"domain": [1530, 1670], "nice": false, "zero": false},
      "axis": {"orient": "bottom", "values": [1540,1560,1580,1600,1620,1640,1660], "labels": false, "tickSize": -6, "domain": true, "grid": false, "title": null, "zindex": 1}},
    "y": {"field": "v", "type": "quantitative", "scale": {"domain": [-40, 30], "nice": false, "zero": false},
      "axis": {"orient": "left", "values": [-40,-30,-20,-10,0,10,20,30], "labels": false, "tickSize": -6, "domain": true, "grid": false, "title": null, "zindex": 1}}
   }},
  {"data": {"name": "p1"},
   "mark": {"type": "point", "opacity": 0},
   "encoding": {
    "x": {"field": "e", "type": "quantitative", "scale": {"domain": [1530, 1670], "nice": false, "zero": false},
      "axis": {"orient": "top", "values": [1540,1560,1580,1600,1620,1640,1660], "labels": false, "tickSize": -6, "domain": true, "grid": false, "title": null, "zindex": 1}},
    "y": {"field": "v", "type": "quantitative", "scale": {"domain": [-40, 30], "nice": false, "zero": false},
      "axis": {"orient": "right", "values": [-40,-30,-20,-10,0,10,20,30], "labels": false, "tickSize": -6, "domain": true, "grid": false, "title": null, "zindex": 1}}
   }},
  {"data": {"name": "lab"},
   "transform": [{"filter": "datum.p == 1"}],
   "mark": {"type": "text", "align": "left", "baseline": "alphabetic", "font": "Lato", "fontSize": 25.5},
   "encoding": {
    "x": {"field": "x", "type": "quantitative", "scale": {"domain": [1530, 1670], "nice": false, "zero": false}, "axis": null},
    "y": {"field": "y", "type": "quantitative", "scale": {"domain": [-40, 30], "nice": false, "zero": false}, "axis": null},
    "text": {"field": "t"},
    "color": {"field": "s", "type": "nominal", "legend": null, "scale": {"domain": ["sample","Chlorite CCa2","Saponite B46"], "range": ["#FF0000","#F79646","#00B0F0"]}}
   }}
 ]
},
{
 "width": 360, "height": 359,
 "resolve": {"axis": {"x": "independent", "y": "independent"}, "scale": {"color": "independent"}},
 "layer": [
  {"data": {"name": "p2"},
   "mark": {"type": "line", "strokeWidth": 4, "strokeJoin": "round", "clip": true},
   "encoding": {
    "x": {"field": "e", "type": "quantitative", "scale": {"domain": [1530, 1670], "nice": false, "zero": false},
      "axis": {"orient": "bottom", "values": [1540,1560,1580,1600,1620,1640,1660], "labelExpr": "'' + datum.value", "ticks": false, "domain": false, "grid": true, "labelPadding": 11, "title": null, "zindex": 0}},
    "y": {"field": "v", "type": "quantitative", "scale": {"domain": [-40, 30], "nice": false, "zero": false},
      "axis": {"orient": "left", "values": [-40,-30,-20,-10,0,10,20,30], "ticks": false, "domain": false, "grid": true, "labelPadding": 9, "labelExpr": "datum.value < 0 ? '-' + abs(datum.value) : '' + datum.value", "title": null, "zindex": 0}},
    "color": {"field": "s", "type": "nominal", "legend": null, "scale": {"domain": ["sample","Berthierine","Nontronite Garfield"], "range": ["#FF0000","#45A8F0","#F7923A"]}}
   }},
  {"data": {"name": "boxes"},
   "transform": [{"filter": "datum.p == 2"}],
   "mark": {"type": "rect", "color": "white"},
   "encoding": {
    "x": {"field": "x", "type": "quantitative", "scale": {"domain": [1530, 1670], "nice": false, "zero": false}, "axis": null},
    "x2": {"field": "x2"},
    "y": {"field": "y", "type": "quantitative", "scale": {"domain": [-40, 30], "nice": false, "zero": false}, "axis": null},
    "y2": {"field": "y2"}
   }},
  {"data": {"name": "p2"},
   "mark": {"type": "point", "opacity": 0},
   "encoding": {
    "x": {"field": "e", "type": "quantitative", "scale": {"domain": [1530, 1670], "nice": false, "zero": false},
      "axis": {"orient": "bottom", "values": [1540,1560,1580,1600,1620,1640,1660], "labels": false, "tickSize": -6, "domain": true, "grid": false, "title": null, "zindex": 1}},
    "y": {"field": "v", "type": "quantitative", "scale": {"domain": [-40, 30], "nice": false, "zero": false},
      "axis": {"orient": "left", "values": [-40,-30,-20,-10,0,10,20,30], "labels": false, "tickSize": -6, "domain": true, "grid": false, "title": null, "zindex": 1}}
   }},
  {"data": {"name": "p2"},
   "mark": {"type": "point", "opacity": 0},
   "encoding": {
    "x": {"field": "e", "type": "quantitative", "scale": {"domain": [1530, 1670], "nice": false, "zero": false},
      "axis": {"orient": "top", "values": [1540,1560,1580,1600,1620,1640,1660], "labels": false, "tickSize": -6, "domain": true, "grid": false, "title": null, "zindex": 1}},
    "y": {"field": "v", "type": "quantitative", "scale": {"domain": [-40, 30], "nice": false, "zero": false},
      "axis": {"orient": "right", "values": [-40,-30,-20,-10,0,10,20,30], "labels": false, "tickSize": -6, "domain": true, "grid": false, "title": null, "zindex": 1}}
   }},
  {"data": {"name": "p2"},
   "mark": {"type": "point", "opacity": 0},
   "encoding": {
    "x": {"field": "e", "type": "quantitative", "scale": {"domain": [1530, 1670], "nice": false, "zero": false},
      "axis": {"orient": "bottom", "values": [1535,1545,1550,1555,1565,1570,1575,1585,1590,1595,1605,1610,1615,1625,1630,1635,1645,1650,1655,1665], "labels": false, "tickSize": -3.5, "domain": false, "grid": false, "title": null, "zindex": 1}},
    "y": {"field": "v", "type": "quantitative", "scale": {"domain": [-40, 30], "nice": false, "zero": false},
      "axis": {"orient": "left", "values": [-38,-36,-34,-32,-28,-26,-24,-22,-18,-16,-14,-12,-8,-6,-4,-2,2,4,6,8,12,14,16,18,22,24,26,28], "labels": false, "tickSize": -3.5, "domain": false, "grid": false, "title": null, "zindex": 1}}
   }},
  {"data": {"name": "p2"},
   "mark": {"type": "point", "opacity": 0},
   "encoding": {
    "x": {"field": "e", "type": "quantitative", "scale": {"domain": [1530, 1670], "nice": false, "zero": false},
      "axis": {"orient": "top", "values": [1535,1545,1550,1555,1565,1570,1575,1585,1590,1595,1605,1610,1615,1625,1630,1635,1645,1650,1655,1665], "labels": false, "tickSize": -3.5, "domain": false, "grid": false, "title": null, "zindex": 1}},
    "y": {"field": "v", "type": "quantitative", "scale": {"domain": [-40, 30], "nice": false, "zero": false},
      "axis": {"orient": "right", "values": [-38,-36,-34,-32,-28,-26,-24,-22,-18,-16,-14,-12,-8,-6,-4,-2,2,4,6,8,12,14,16,18,22,24,26,28], "labels": false, "tickSize": -3.5, "domain": false, "grid": false, "title": null, "zindex": 1}}
   }},
  {"data": {"name": "lab"},
   "transform": [{"filter": "datum.p == 2 && (datum.t == 'sample' || datum.t == 'Berthierine')"}],
   "mark": {"type": "text", "align": "left", "baseline": "alphabetic", "font": "Lato", "fontSize": 25.5},
   "encoding": {
    "x": {"field": "x", "type": "quantitative", "scale": {"domain": [1530, 1670], "nice": false, "zero": false}, "axis": null},
    "y": {"field": "y", "type": "quantitative", "scale": {"domain": [-40, 30], "nice": false, "zero": false}, "axis": null},
    "text": {"field": "t"},
    "color": {"field": "s", "type": "nominal", "legend": null, "scale": {"domain": ["sample","Berthierine","Nontronite Garfield"], "range": ["#FF0000","#00B0F0","#F79646"]}}
   }},
  {"data": {"name": "lab"},
   "transform": [{"filter": "datum.p == 2 && datum.t != 'sample' && datum.t != 'Berthierine'"}],
   "mark": {"type": "text", "align": "left", "baseline": "alphabetic", "font": "Lato", "fontSize": 22.5, "color": "#F79646"},
   "encoding": {
    "x": {"field": "x", "type": "quantitative", "scale": {"domain": [1530, 1670], "nice": false, "zero": false}, "axis": null},
    "y": {"field": "y", "type": "quantitative", "scale": {"domain": [-40, 30], "nice": false, "zero": false}, "axis": null},
    "text": {"field": "t"}
   }}
 ]
},
{
 "width": 357, "height": 364,
 "resolve": {"axis": {"x": "independent", "y": "independent"}, "scale": {"color": "independent"}},
 "layer": [
  {"data": {"name": "p3"},
   "mark": {"type": "line", "strokeWidth": 4, "strokeJoin": "round", "clip": true},
   "encoding": {
    "x": {"field": "e", "type": "quantitative", "scale": {"domain": [1530, 1667.3], "nice": false, "zero": false},
      "axis": {"orient": "bottom", "values": [1540,1560,1580,1600,1620,1640,1660], "labelExpr": "'' + datum.value", "ticks": false, "domain": false, "grid": true, "labelPadding": 11, "title": null, "zindex": 0}},
    "y": {"field": "v", "type": "quantitative", "scale": {"domain": [-40, 30], "nice": false, "zero": false},
      "axis": {"orient": "left", "values": [-40,-30,-20,-10,0,10,20,30], "ticks": false, "domain": false, "grid": true, "labelPadding": 9, "labelExpr": "datum.value < 0 ? '-' + abs(datum.value) : '' + datum.value", "title": null, "zindex": 0}},
    "color": {"field": "s", "type": "nominal", "legend": null, "scale": {"domain": ["sample","Greenalite","Chamosite"], "range": ["#FF0000","#F7923A","#45A8F0"]}}
   }},
  {"data": {"name": "boxes"},
   "transform": [{"filter": "datum.p == 3"}],
   "mark": {"type": "rect", "color": "white"},
   "encoding": {
    "x": {"field": "x", "type": "quantitative", "scale": {"domain": [1530, 1667.3], "nice": false, "zero": false}, "axis": null},
    "x2": {"field": "x2"},
    "y": {"field": "y", "type": "quantitative", "scale": {"domain": [-40, 30], "nice": false, "zero": false}, "axis": null},
    "y2": {"field": "y2"}
   }},
  {"data": {"name": "p3"},
   "mark": {"type": "point", "opacity": 0},
   "encoding": {
    "x": {"field": "e", "type": "quantitative", "scale": {"domain": [1530, 1667.3], "nice": false, "zero": false},
      "axis": {"orient": "bottom", "values": [1540,1560,1580,1600,1620,1640,1660], "labels": false, "tickSize": -6, "domain": true, "grid": false, "title": null, "zindex": 1}},
    "y": {"field": "v", "type": "quantitative", "scale": {"domain": [-40, 30], "nice": false, "zero": false},
      "axis": {"orient": "left", "values": [-40,-30,-20,-10,0,10,20,30], "labels": false, "tickSize": -6, "domain": true, "grid": false, "title": null, "zindex": 1}}
   }},
  {"data": {"name": "p3"},
   "mark": {"type": "point", "opacity": 0},
   "encoding": {
    "x": {"field": "e", "type": "quantitative", "scale": {"domain": [1530, 1667.3], "nice": false, "zero": false},
      "axis": {"orient": "top", "values": [1540,1560,1580,1600,1620,1640,1660], "labels": false, "tickSize": -6, "domain": true, "grid": false, "title": null, "zindex": 1}},
    "y": {"field": "v", "type": "quantitative", "scale": {"domain": [-40, 30], "nice": false, "zero": false},
      "axis": {"orient": "left", "values": [-38,-36,-34,-32,-28,-26,-24,-22,-18,-16,-14,-12,-8,-6,-4,-2,2,4,6,8,12,14,16,18,22,24,26,28], "labels": false, "tickSize": -3.5, "domain": false, "grid": false, "title": null, "zindex": 1}}
   }},
  {"data": {"name": "p3"},
   "mark": {"type": "point", "opacity": 0},
   "encoding": {
    "x": {"field": "e", "type": "quantitative", "scale": {"domain": [1530, 1667.3], "nice": false, "zero": false},
      "axis": {"orient": "bottom", "values": [1535,1545,1550,1555,1565,1570,1575,1585,1590,1595,1605,1610,1615,1625,1630,1635,1645,1650,1655,1665], "labels": false, "tickSize": -3.5, "domain": false, "grid": false, "title": null, "zindex": 1}},
    "y": {"field": "v", "type": "quantitative", "scale": {"domain": [-40, 30], "nice": false, "zero": false}, "axis": null}
   }},
  {"data": {"name": "p3"},
   "mark": {"type": "point", "opacity": 0},
   "encoding": {
    "x": {"field": "e", "type": "quantitative", "scale": {"domain": [1530, 1667.3], "nice": false, "zero": false},
      "axis": {"orient": "top", "values": [1535,1545,1550,1555,1565,1570,1575,1585,1590,1595,1605,1610,1615,1625,1630,1635,1645,1650,1655,1665], "labels": false, "tickSize": -3.5, "domain": false, "grid": false, "title": null, "zindex": 1}},
    "y": {"field": "v", "type": "quantitative", "scale": {"domain": [-40, 30], "nice": false, "zero": false}, "axis": null}
   }},
  {"data": {"name": "lab"},
   "transform": [{"filter": "datum.p == 3 && datum.t == 'sample'"}],
   "mark": {"type": "text", "align": "left", "baseline": "alphabetic", "font": "Lato", "fontSize": 25.5, "color": "#FF0000"},
   "encoding": {
    "x": {"field": "x", "type": "quantitative", "scale": {"domain": [1530, 1667.3], "nice": false, "zero": false}, "axis": null},
    "y": {"field": "y", "type": "quantitative", "scale": {"domain": [-40, 30], "nice": false, "zero": false}, "axis": null},
    "text": {"field": "t"}
   }},
  {"data": {"name": "lab"},
   "transform": [{"filter": "datum.p == 3 && datum.t != 'sample'"}],
   "mark": {"type": "text", "align": "left", "baseline": "alphabetic", "font": "Lato", "fontSize": 22.5},
   "encoding": {
    "x": {"field": "x", "type": "quantitative", "scale": {"domain": [1530, 1667.3], "nice": false, "zero": false}, "axis": null},
    "y": {"field": "y", "type": "quantitative", "scale": {"domain": [-40, 30], "nice": false, "zero": false}, "axis": null},
    "text": {"field": "t"},
    "color": {"field": "s", "type": "nominal", "legend": null, "scale": {"domain": ["Greenalite","Chamosite"], "range": ["#F79646","#00B0F0"]}}
   }}
 ]
}
]
}
